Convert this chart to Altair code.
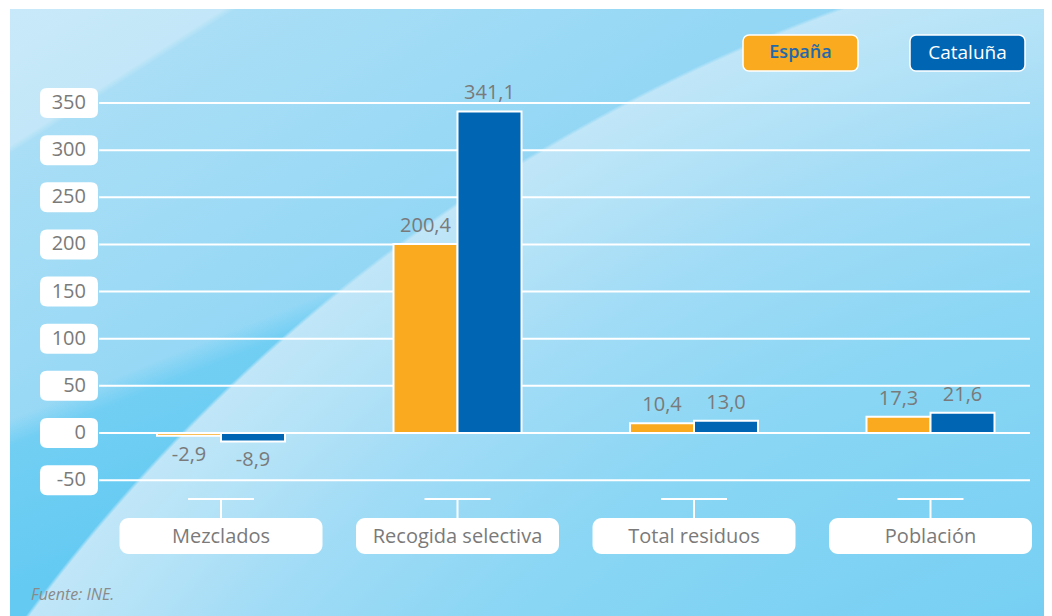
import altair as alt
import pandas as pd

categories = ["Mezclados", "Recogida selectiva", "Total residuos", "Población"]
series = ["España", "Cataluña"]
espana = [-2.9, 200.4, 10.4, 17.3]
cataluna = [-8.9, 341.1, 13.0, 21.6]
ticks = [-50, 0, 50, 100, 150, 200, 250, 300, 350]
source = "Fuente: INE."

colors = ["#F9AA1E", "#0066B3"]
GRAY = "#7A7A7A"
FONT = "Open Sans"

rows = []
for c, e, k in zip(categories, espana, cataluna):
    rows.append({"cat": c, "serie": series[0], "v": e})
    rows.append({"cat": c, "serie": series[1], "v": k})
df = pd.DataFrame(rows)
df["label"] = df["v"].map(lambda v: f"{v:.1f}".replace(".", ","))
cat_df = pd.DataFrame({"cat": categories})
tick_df = pd.DataFrame({"t": ticks})
tick_df["tl"] = tick_df["t"].astype(str)
one = pd.DataFrame({"a": [0]})

W, H = 1036, 608
xscale = alt.Scale(domain=categories, range=[94.75, 1040.75], paddingInner=0.4588, paddingOuter=0.2294)
yscale = alt.Scale(domain=[-194.1, 450.75], nice=False, zero=False)
X = alt.X("cat:N", scale=xscale, axis=None, sort=categories)
XO = alt.XOffset("serie:N", scale=alt.Scale(domain=series, paddingInner=0, paddingOuter=0), sort=series)
Y = alt.Y("v:Q", scale=yscale, axis=None)


def full_rect(fill):
    return alt.Chart(one).mark_rect(color=fill).encode(
        x=alt.value(2), x2=alt.value(W), y=alt.value(1), y2=alt.value(H)
    )


# background: base wash, darker lower-left wedge, curved light swoosh
bg = full_rect(alt.LinearGradient(
    gradient="linear", x1=0, y1=0, x2=1, y2=0.916,
    stops=[
        alt.GradientStop(color="#C8E9F9", offset=0),
        alt.GradientStop(color="#C3E7F8", offset=0.112),
        alt.GradientStop(color="#A9DEF6", offset=0.119),
        alt.GradientStop(color="#A0DBF5", offset=0.25),
        alt.GradientStop(color="#93D7F5", offset=0.4),
        alt.GradientStop(color="#8AD5F4", offset=1),
    ],
))
dark = full_rect(alt.LinearGradient(
    gradient="linear", x1=0, y1=0, x2=1, y2=1.465,
    stops=[
        alt.GradientStop(color="rgba(108,205,243,0)", offset=0),
        alt.GradientStop(color="rgba(108,205,243,0)", offset=0.315),
        alt.GradientStop(color="rgba(108,205,243,0.85)", offset=0.335),
        alt.GradientStop(color="rgba(100,202,242,1)", offset=0.45),
        alt.GradientStop(color="rgba(100,202,242,1)", offset=1),
    ],
))
swoosh = full_rect(alt.RadialGradient(
    gradient="radial", x1=1.383, y1=1.803, r1=0, x2=1.383, y2=1.803, r2=1.702,
    stops=[
        alt.GradientStop(color="#72CEF3", offset=0),
        alt.GradientStop(color="#72CEF3", offset=0.6),
        alt.GradientStop(color="#8AD6F4", offset=0.8),
        alt.GradientStop(color="#A2DCF6", offset=0.9),
        alt.GradientStop(color="#B6E3F7", offset=0.96),
        alt.GradientStop(color="#C0E6F8", offset=0.997),
        alt.GradientStop(color="rgba(194,231,248,0)", offset=0.999),
        alt.GradientStop(color="rgba(194,231,248,0)", offset=1),
    ],
))

rounded = ("M-0.759,-0.517 L0.759,-0.517 Q1,-0.517 1,-0.276 L1,0.276 Q1,0.517 0.759,0.517 "
           "L-0.759,0.517 Q-1,0.517 -1,0.276 L-1,-0.276 Q-1,-0.517 -0.759,-0.517 Z")

grid = alt.Chart(tick_df).mark_rule(color="white", strokeWidth=2).encode(
    y=alt.Y("t:Q", scale=yscale, axis=None), x=alt.value(91), x2=alt.value(1022)
)
tick_box = alt.Chart(tick_df).mark_point(
    shape=rounded, filled=True, color="white", opacity=1, size=3364, strokeWidth=0
).encode(y=alt.Y("t:Q", scale=yscale, axis=None), x=alt.value(61))
tick_txt = alt.Chart(tick_df).mark_text(
    align="right", baseline="middle", fontSize=20, font=FONT, color=GRAY
).encode(y=alt.Y("t:Q", scale=yscale, axis=None), x=alt.value(78), text="tl:N")

bars = alt.Chart(df).mark_bar(stroke="white", strokeWidth=2).encode(
    x=X, xOffset=XO, y=Y,
    color=alt.Color("serie:N", scale=alt.Scale(domain=series, range=colors), legend=None),
)
pos_lbl = alt.Chart(df).transform_filter("datum.v >= 0").mark_text(
    baseline="middle", dy=-18, fontSize=20, font=FONT, color=GRAY
).encode(x=X, xOffset=XO, y=Y, text="label:N")
neg_lbl = alt.Chart(df).transform_filter("datum.v < 0").mark_text(
    baseline="middle", dy=19, fontSize=20, font=FONT, color=GRAY
).encode(x=X, xOffset=XO, y=Y, text="label:N")

bracket_h = alt.Chart(cat_df).mark_bar(width=66, color="white").encode(
    x=X, y=alt.value(490), y2=alt.value(492)
)
bracket_v = alt.Chart(cat_df).mark_rule(color="white", strokeWidth=2).encode(
    x=X, y=alt.value(491), y2=alt.value(510)
)
cat_box = alt.Chart(cat_df).mark_bar(width=203, color="white", cornerRadius=9).encode(
    x=X, y=alt.value(510), y2=alt.value(546)
)
cat_txt = alt.Chart(cat_df).mark_text(
    baseline="middle", fontSize=20, font=FONT, color=GRAY
).encode(x=X, y=alt.value(529), text="cat:N")

leg1 = alt.Chart(one).mark_rect(color=colors[0], stroke="white", strokeWidth=1.5, cornerRadius=6).encode(
    x=alt.value(735), x2=alt.value(850), y=alt.value(27), y2=alt.value(63))
leg2 = alt.Chart(one).mark_rect(color=colors[1], stroke="white", strokeWidth=1.5, cornerRadius=6).encode(
    x=alt.value(902), x2=alt.value(1017), y=alt.value(27), y2=alt.value(63))
leg1t = alt.Chart(one).mark_text(baseline="middle", fontSize=18, font=FONT, fontWeight=600, color="#1F68AE").encode(
    x=alt.value(792.5), y=alt.value(45), text=alt.value(series[0]))
leg2t = alt.Chart(one).mark_text(baseline="middle", fontSize=19, font=FONT, color="white").encode(
    x=alt.value(959.5), y=alt.value(45), text=alt.value(series[1]))
src = alt.Chart(one).mark_text(align="left", baseline="middle", fontSize=16, font=FONT, fontStyle="italic", color="#8A8A8A").encode(
    x=alt.value(23), y=alt.value(587), text=alt.value(source))

chart = alt.layer(
    bg, dark, swoosh, grid, tick_box, tick_txt, bars, pos_lbl, neg_lbl,
    bracket_h, bracket_v, cat_box, cat_txt, leg1, leg2, leg1t, leg2t, src
).properties(
    width=W, height=H, padding=0, autosize=alt.AutoSizeParams(type="none")
).configure_view(stroke=None)

chart.save("out.html", embed_options={"renderer": "svg", "actions": False})
